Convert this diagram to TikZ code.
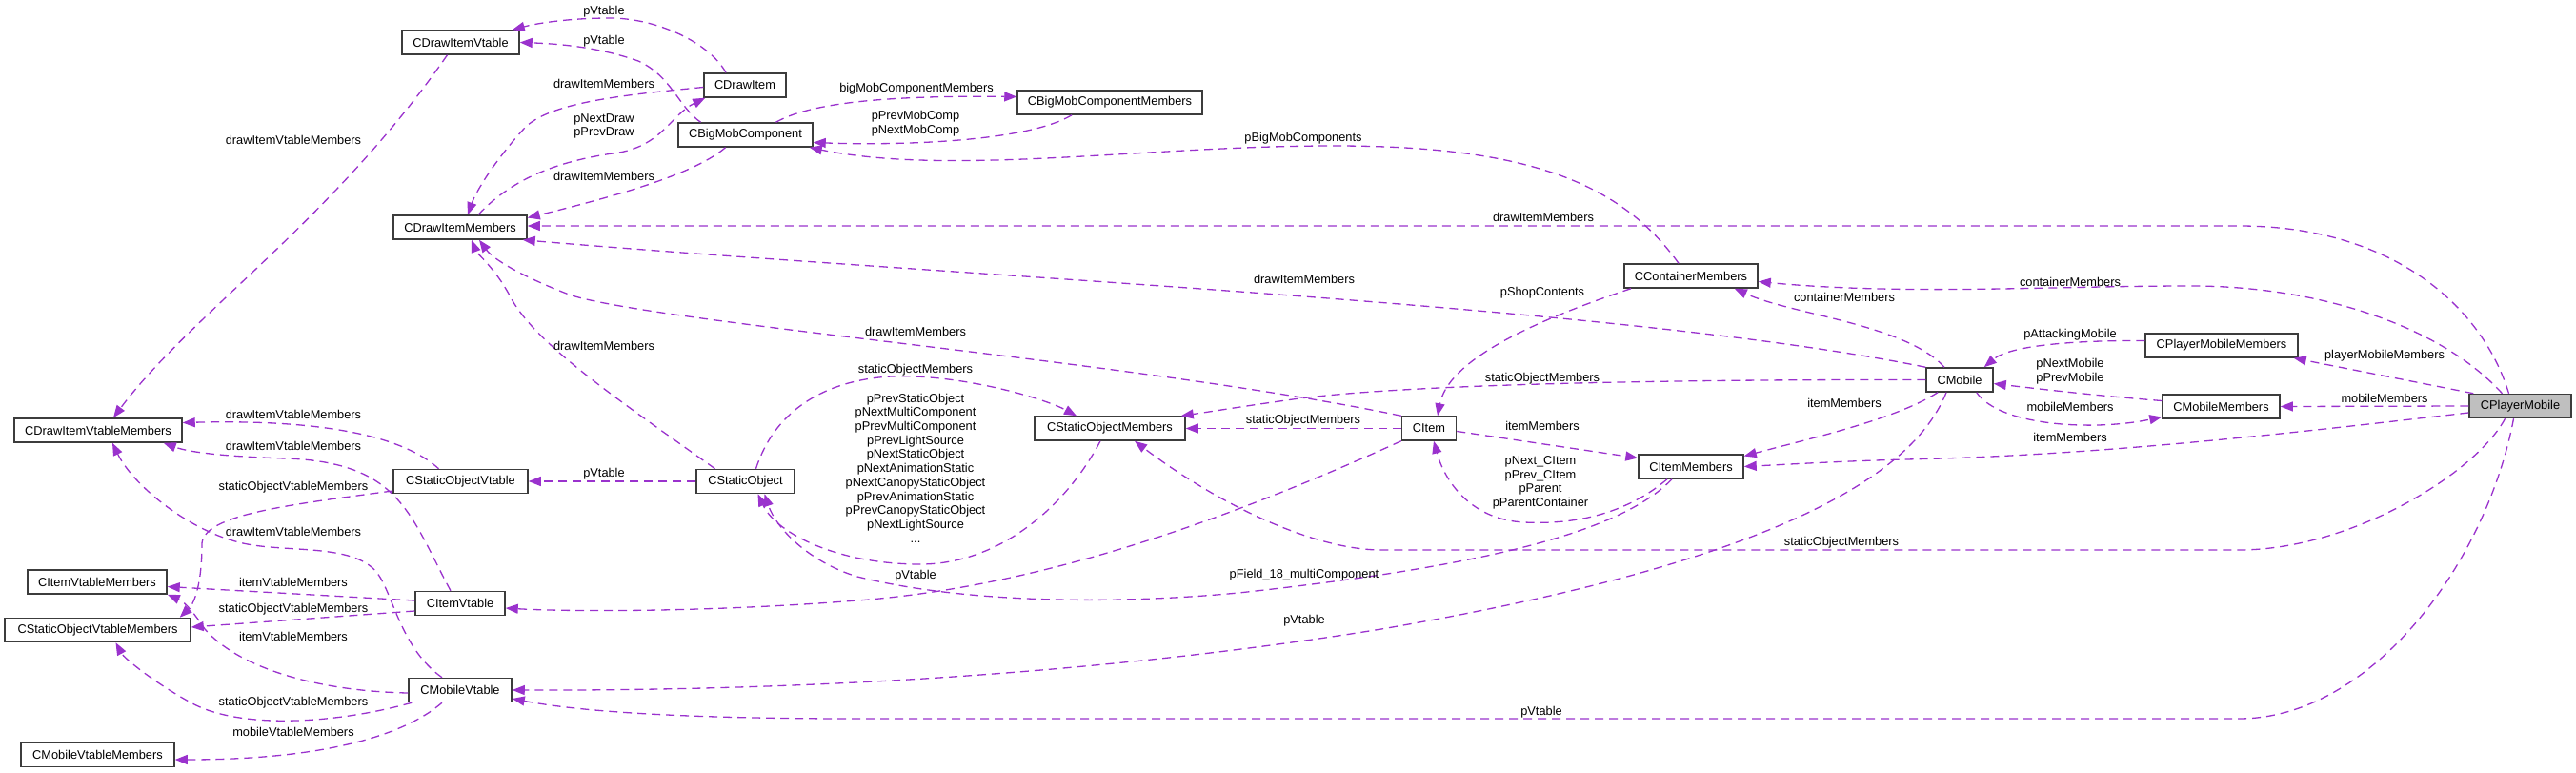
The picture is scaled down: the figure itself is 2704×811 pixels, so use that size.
\documentclass[tikz,border=0pt]{standalone}
\usepackage{fontspec}
\setmainfont{Liberation Sans}
\usetikzlibrary{arrows.meta}
\definecolor{pur}{RGB}{154,50,205}
\definecolor{boxline}{RGB}{60,60,60}
\definecolor{selfill}{RGB}{191,191,191}
\begin{document}
\begin{tikzpicture}[x=1pt,y=-1pt,
  cls/.style={draw=boxline, line width=1.5pt, fill=white, minimum height=25pt, inner sep=0pt, font=\fontsize{12.8}{14.7}\selectfont},
  lbl/.style={inner sep=0pt, align=center, font=\fontsize{12.8}{14.7}\selectfont},
  rel/.style={draw=pur, line width=1.3pt, dash pattern=on 9pt off 6pt, -{Triangle[length=13pt,width=10pt]}}]
\useasboundingbox (0,0) rectangle (2704,811);
% classes
\node[cls, minimum width=123pt] (cdiv) at (483.5,44.5) {CDrawItemVtable};
\node[cls, minimum width=86pt] (cdi) at (782,89.5) {CDrawItem};
\node[cls, minimum width=141pt] (cbmc) at (782.5,141.5) {CBigMobComponent};
\node[cls, minimum width=194pt] (cbmcm) at (1165,107.5) {CBigMobComponentMembers};
\node[cls, minimum width=140pt] (cdim) at (483,238.5) {CDrawItemMembers};
\node[cls, minimum width=176pt] (cdivm) at (103,451.5) {CDrawItemVtableMembers};
\node[cls, minimum width=141pt] (csov) at (483.5,505) {CStaticObjectVtable};
\node[cls, minimum width=146pt] (civm) at (102,610.5) {CItemVtableMembers};
\node[cls, minimum width=195pt] (csovm) at (102.5,661) {CStaticObjectVtableMembers};
\node[cls, minimum width=94pt] (civ) at (483,633) {CItemVtable};
\node[cls, minimum width=108pt] (cmv) at (483,724) {CMobileVtable};
\node[cls, minimum width=161pt] (cmvm) at (102.5,792) {CMobileVtableMembers};
\node[cls, minimum width=103pt] (cso) at (782.5,505) {CStaticObject};
\node[cls, minimum width=158pt] (csom) at (1165,449.5) {CStaticObjectMembers};
\node[cls, minimum width=140pt] (ccm) at (1775,289.5) {CContainerMembers};
\node[cls, minimum width=57pt] (ci) at (1500,449.5) {CItem};
\node[cls, minimum width=110pt] (cim) at (1775,489.5) {CItemMembers};
\node[cls, minimum width=70pt] (cm) at (2057,398.5) {CMobile};
\node[cls, minimum width=160pt] (cpmm) at (2332,362.5) {CPlayerMobileMembers};
\node[cls, minimum width=123pt] (cmm) at (2331.5,426.5) {CMobileMembers};
\node[cls, minimum width=107pt, fill=selfill] (cpm) at (2645.5,426) {CPlayerMobile};
% connectors
\draw[rel] ([xshift=-20pt]cdi.north) .. controls (745,45) and (690,19) .. (640,19) .. controls (600,19) and (565,24) .. ([xshift=-8pt]cdiv.north east);
\draw[rel] ([xshift=-47pt]cbmc.north) .. controls (712,112) and (705,80) .. (670,64) .. controls (630,50) and (590,46) .. (cdiv.east);
\draw[rel] ([yshift=-2pt]cdi.west) .. controls (650,100) and (575,108) .. (550,135) .. controls (520,168) and (500,200) .. ([xshift=8pt]cdim.north);
\draw[rel] ([xshift=19pt]cdim.north) .. controls (540,185) and (590,168) .. (650,160) .. controls (695,152) and (705,120) .. ([xshift=2pt]cdi.south west);
\draw[rel] ([xshift=-21pt]cbmc.south) .. controls (730,182) and (650,205) .. ([yshift=10pt]cdim.east);
\draw[rel] ([xshift=-12pt]cpm.north) .. controls (2605,320) and (2510,237) .. (2350,237) -- ([yshift=1.5pt]cdim.east);
\draw[rel] ([xshift=-13pt]ccm.north) .. controls (1700,190) and (1600,153) .. (1400,153) .. controls (1200,153) and (1000,185) .. ([xshift=-4pt]cbmc.south east);
\draw[rel] ([xshift=32pt]cbmc.north) .. controls (850,108) and (930,100) .. ([yshift=6pt]cbmcm.west);
\draw[rel] ([xshift=-40pt]cbmcm.south) .. controls (1080,148) and (950,153) .. ([yshift=-8pt]cbmc.east);
\draw[rel] (cm.north west) .. controls (1700,320) and (1000,290) .. ([xshift=-5pt]cdim.south east);
\draw[rel] (ci.north west) .. controls (1200,380) and (700,340) .. (600,310) .. controls (560,295) and (520,275) .. ([xshift=20pt]cdim.south);
\draw[rel] ([xshift=-32pt]cso.north) .. controls (650,420) and (560,360) .. (535,310) .. controls (520,282) and (500,265) .. ([xshift=12pt]cdim.south);
\draw[rel] ([xshift=11pt]cso.north) .. controls (820,410) and (900,392) .. (960,395) .. controls (1030,398) and (1100,420) .. ([xshift=-35pt]csom.north);
\draw[rel] (cm.west) .. controls (1700,398) and (1450,405) .. (1350,420) .. controls (1300,427) and (1270,432) .. ([xshift=-5pt]csom.north east);
\draw[rel] (ci.west) -- (csom.east);
\draw[rel] ([xshift=-16pt]cpm.south) .. controls (2600,495) and (2470,577) .. (2350,577) -- (1450,577) .. controls (1380,577) and (1280,530) .. ([xshift=26pt]csom.south);
\draw[rel] ([xshift=-10pt]csom.south) .. controls (1120,530) and (1050,592) .. (966,592) .. controls (880,592) and (815,560) .. ([xshift=13pt]cso.south);
\draw[rel] ([xshift=-20pt]cim.south) .. controls (1700,560) and (1550,595) .. (1300,622) .. controls (1150,636) and (1000,630) .. (900,605) .. controls (850,590) and (815,555) .. ([xshift=20pt]cso.south);
\draw[rel] ([xshift=-63pt]ccm.south) .. controls (1600,340) and (1520,380) .. ([xshift=9pt]ci.north);
\draw[rel] ([yshift=-3pt]ci.east) -- ([yshift=9pt]cim.west);
\draw[rel] ([xshift=-25pt]cim.south) .. controls (1700,545) and (1640,550) .. (1600,548) .. controls (1540,545) and (1515,500) .. ([xshift=5pt]ci.south);
\draw[rel] (ci.south west) .. controls (1300,540) and (1100,615) .. (900,630) .. controls (750,642) and (600,642) .. ([yshift=-5pt]civ.east);
\draw[rel] ([xshift=-16pt]cm.north) .. controls (2000,340) and (1880,330) .. ([xshift=-25pt]ccm.south east);
\draw[rel] ([xshift=-19pt]cpm.north) .. controls (2560,340) and (2430,300) .. (2300,300) .. controls (2150,300) and (2000,310) .. ([yshift=-6pt]ccm.east);
\draw[rel] ([xshift=-23pt]cm.south) .. controls (1990,440) and (1900,460) .. ([yshift=11pt]cim.east);
\draw[rel] ([yshift=-7pt]cpm.west) .. controls (2400,455) and (2200,478) .. (2000,482) .. controls (1930,484) and (1880,487) .. (cim.east);
\draw[rel] ([xshift=-14pt]cm.south) .. controls (2000,520) and (1800,600) .. (1450,660) .. controls (1200,700) and (900,725) .. (cmv.east);
\draw[rel] ([xshift=-7pt]cpm.south) .. controls (2610,590) and (2490,754) .. (2350,754) -- (900,754) .. controls (700,754) and (600,745) .. ([yshift=-9pt]cmv.east);
\draw[rel] ([yshift=5pt]cpmm.west) .. controls (2180,357) and (2110,362) .. ([xshift=-10pt]cm.north east);
\draw[rel] ([yshift=6pt]cmm.west) .. controls (2200,415) and (2140,408) .. ([yshift=-4pt]cm.east);
\draw[rel] ([xshift=-18pt]cm.south east) .. controls (2100,448) and (2200,452) .. ([yshift=-11pt]cmm.west);
\draw[rel] (cpm.west) -- (cmm.east);
\draw[rel] ([xshift=5pt]cpm.north west) -- ([xshift=-5pt]cpmm.south east);
\draw[rel] ([xshift=-14pt]cdiv.south) .. controls (350,230) and (200,330) .. ([xshift=16pt]cdivm.north);
\draw[rel] ([xshift=-23pt]csov.north) .. controls (420,455) and (330,440) .. ([yshift=8pt]cdivm.east);
\draw[rel] ([xshift=-10pt]civ.north) .. controls (430,540) and (420,485) .. (300,481) .. controls (240,479) and (200,475) .. ([xshift=-20pt]cdivm.south east);
\draw[rel] ([xshift=-19pt]cmv.north) .. controls (420,680) and (412,620) .. (395,600) .. controls (370,570) and (300,580) .. (255,570) .. controls (200,558) and (140,510) .. ([xshift=15pt]cdivm.south);
\draw[rel] ([yshift=-10pt]csov.west) .. controls (300,530) and (215,540) .. (212,570) .. controls (212,610) and (205,632) .. ([xshift=-12pt]csovm.north east);
\draw[rel] ([yshift=3pt]civ.west) -- ([yshift=-5pt]civm.east);
\draw[rel] ([yshift=-8pt]civ.west) -- ([yshift=3pt]csovm.east);
\draw[rel] ([yshift=-3pt]cmv.west) .. controls (330,725) and (250,700) .. (215,660) .. controls (205,645) and (195,632) .. (civm.south east);
\draw[rel] ([xshift=4pt]cmv.south west) .. controls (350,760) and (250,765) .. (200,737) .. controls (160,715) and (130,690) .. ([xshift=19pt]csovm.south);
\draw[rel] ([xshift=-19pt]cmv.south) .. controls (420,775) and (330,797) .. ([yshift=-5pt]cmvm.east);
\draw[rel] (cso.west) -- (csov.east);
% labels
\node[lbl] (l1) at (634,12) {pVtable};
\node[lbl] (l2) at (634,43) {pVtable};
\node[lbl] (l3) at (634,88) {drawItemMembers};
\node[lbl] (l4) at (634,132.5) {pNextDraw\\pPrevDraw};
\node[lbl] (l5) at (634,185) {drawItemMembers};
\node[lbl] (l6) at (1620,228) {drawItemMembers};
\node[lbl] (l7) at (1368,145) {pBigMobComponents};
\node[lbl] (l8) at (962,93) {bigMobComponentMembers};
\node[lbl] (l9) at (961,130) {pPrevMobComp\\pNextMobComp};
\node[lbl] (l10) at (1369,293) {drawItemMembers};
\node[lbl] (l11) at (961,348) {drawItemMembers};
\node[lbl] (l12) at (634,363) {drawItemMembers};
\node[lbl] (l13) at (961,388) {staticObjectMembers};
\node[lbl] (l14) at (1619,397) {staticObjectMembers};
\node[lbl] (l15) at (1368,441) {staticObjectMembers};
\node[lbl] (l16) at (1933,569) {staticObjectMembers};
\node[lbl] (l17) at (961,491) {pPrevStaticObject\\pNextMultiComponent\\pPrevMultiComponent\\pPrevLightSource\\pNextStaticObject\\pNextAnimationStatic\\pNextCanopyStaticObject\\pPrevAnimationStatic\\pPrevCanopyStaticObject\\pNextLightSource\\...};
\node[lbl] (l18) at (1369,603) {pField\_18\_multiComponent};
\node[lbl] (l19) at (1619,307) {pShopContents};
\node[lbl] (l20) at (1619,447) {itemMembers};
\node[lbl] (l21) at (1617,506.5) {pNext\_CItem\\pPrev\_CItem\\pParent\\pParentContainer};
\node[lbl] (l22) at (961,604) {pVtable};
\node[lbl] (l23) at (1936,312) {containerMembers};
\node[lbl] (l24) at (2173,296) {containerMembers};
\node[lbl] (l25) at (1936,423) {itemMembers};
\node[lbl] (l26) at (2173,459) {itemMembers};
\node[lbl] (l27) at (1369,651) {pVtable};
\node[lbl] (l28) at (1618,747) {pVtable};
\node[lbl] (l29) at (2173,351) {pAttackingMobile};
\node[lbl] (l30) at (2173,389.5) {pNextMobile\\pPrevMobile};
\node[lbl] (l31) at (2173,427) {mobileMembers};
\node[lbl] (l32) at (2503,418) {mobileMembers};
\node[lbl] (l33) at (2503,373) {playerMobileMembers};
\node[lbl] (l34) at (308,147) {drawItemVtableMembers};
\node[lbl] (l35) at (308,435) {drawItemVtableMembers};
\node[lbl] (l36) at (308,468) {drawItemVtableMembers};
\node[lbl] (l37) at (308,558) {drawItemVtableMembers};
\node[lbl] (l38) at (308,511) {staticObjectVtableMembers};
\node[lbl] (l39) at (308,611) {itemVtableMembers};
\node[lbl] (l40) at (308,639) {staticObjectVtableMembers};
\node[lbl] (l41) at (308,668) {itemVtableMembers};
\node[lbl] (l42) at (308,737) {staticObjectVtableMembers};
\node[lbl] (l43) at (308,768) {mobileVtableMembers};
\node[lbl] (l44) at (634,497) {pVtable};
\end{tikzpicture}
\end{document}
